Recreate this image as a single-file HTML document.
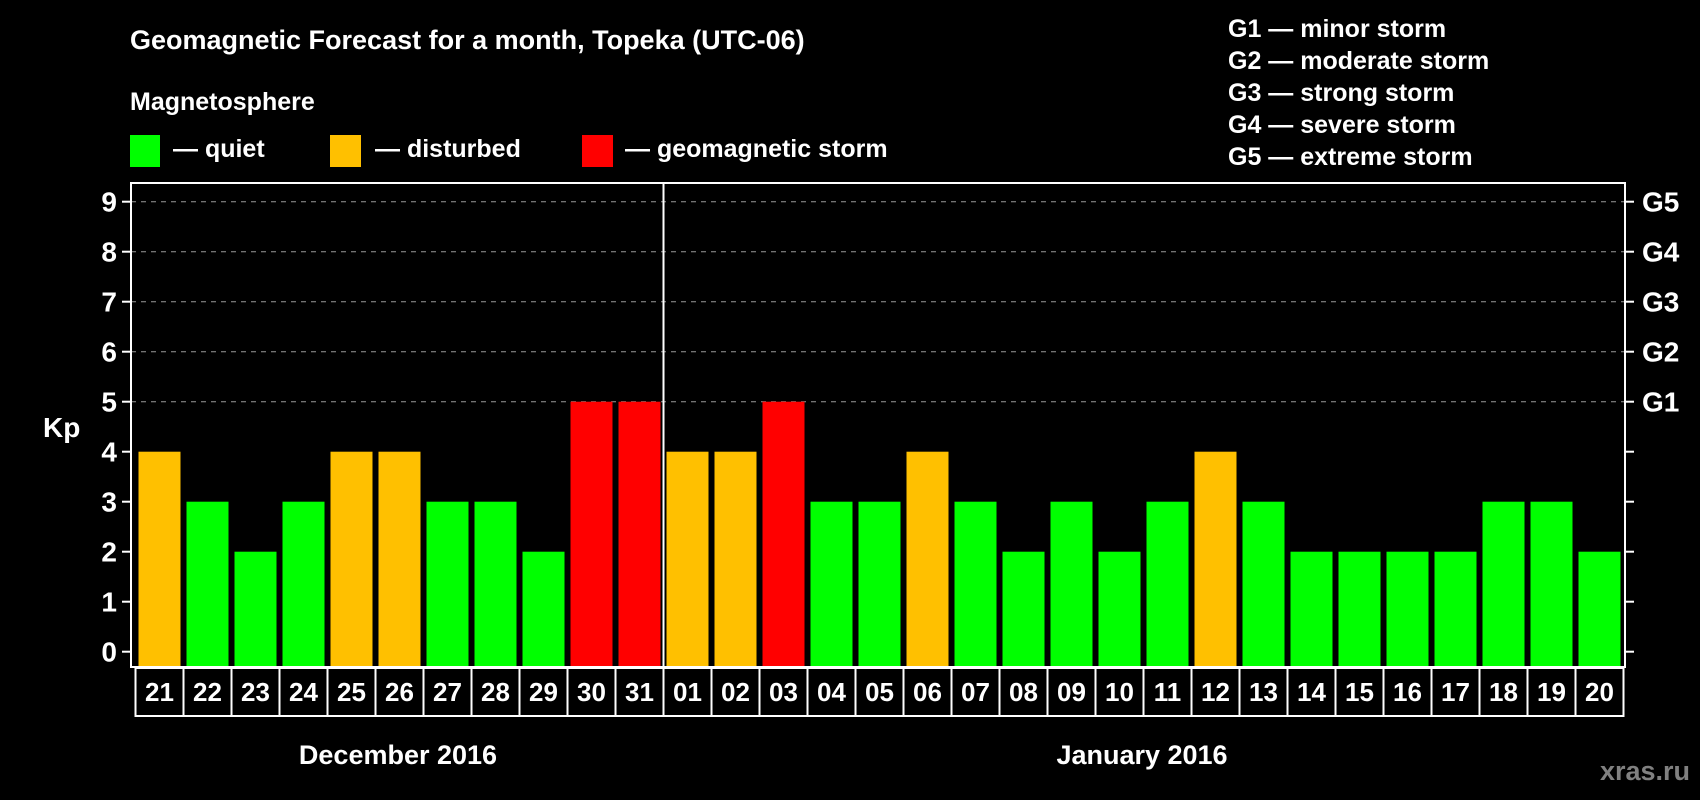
<!DOCTYPE html>
<html><head><meta charset="utf-8"><style>
html,body{margin:0;padding:0;background:#000;}
svg{display:block;font-family:"Liberation Sans",Arial,sans-serif;font-weight:bold;}
</style></head><body>
<svg id="chart" width="1700" height="800" viewBox="0 0 1700 800" xmlns="http://www.w3.org/2000/svg">
<rect x="0" y="0" width="1700" height="800" fill="#000"/>
<text x="130" y="49" font-size="27" fill="#fff">Geomagnetic Forecast for a month, Topeka (UTC-06)</text>
<text x="130" y="110" font-size="25" fill="#fff">Magnetosphere</text>
<g><rect x="130" y="135" width="30" height="32" fill="#00ff00"/><text x="173" y="157" font-size="25" fill="#fff">— quiet</text></g>
<g><rect x="330" y="135" width="31" height="32" fill="#ffc000"/><text x="375" y="157" font-size="25" fill="#fff">— disturbed</text></g>
<g><rect x="582" y="135" width="31" height="32" fill="#ff0000"/><text x="663" y="157" font-size="25" fill="#fff" text-anchor="start" dx="-38">— geomagnetic storm</text></g>
<g font-size="25" fill="#fff">
<text x="1228" y="37">G1 — minor storm</text>
<text x="1228" y="69">G2 — moderate storm</text>
<text x="1228" y="101">G3 — strong storm</text>
<text x="1228" y="133">G4 — severe storm</text>
<text x="1228" y="165">G5 — extreme storm</text>
</g>
<text x="43" y="437" font-size="28" fill="#fff">Kp</text>
<g id="grid"></g><g id="bars"></g><g id="axes"></g>
<text x="398" y="764" font-size="27" fill="#fff" text-anchor="middle">December 2016</text>
<text x="1142" y="764" font-size="27" fill="#fff" text-anchor="middle">January 2016</text>
<text x="1690" y="780" font-size="27" fill="#808080" text-anchor="end">xras.ru</text>
</svg>
<script>
const days = ["21","22","23","24","25","26","27","28","29","30","31","01","02","03","04","05","06","07","08","09","10","11","12","13","14","15","16","17","18","19","20"];
const kpValues = [4,3,2,3,4,4,3,3,2,5,5,4,4,5,3,3,4,3,2,3,2,3,4,3,2,2,2,2,3,3,2];
const yTicks = [0,1,2,3,4,5,6,7,8,9];
const gLabels = ["G1","G2","G3","G4","G5"];
const gLevels = [5,6,7,8,9];
const monthBreakIndex = 11;

const NS = "http://www.w3.org/2000/svg";
const L = 131, R = 1625, T = 183, B = 667;
const cellX0 = 135.5, cellW = 48, barW = 42;
const y = v => 651.7 - v * 50;
const xCell = i => cellX0 + i * cellW;
function mk(tag, attrs, parent) {
  const e = document.createElementNS(NS, tag);
  for (const k in attrs) e.setAttribute(k, attrs[k]);
  parent.appendChild(e); return e;
}
const grid = document.getElementById('grid');
const bars = document.getElementById('bars');
const axes = document.getElementById('axes');
gLevels.forEach((v, i) => {
  const ln = mk('line', {x1: L, x2: R, y1: y(v), y2: y(v), stroke: '#999', 'stroke-width': 1, 'stroke-dasharray': '5,5'}, grid);
  
  
  const t = mk('text', {x: 1642, y: y(v) + 10, 'font-size': 28, fill: '#fff'}, axes);
  t.textContent = gLabels[i];
  
  
});
kpValues.forEach((v, i) => {
  const c = v >= 5 ? '#ff0000' : (v >= 4 ? '#ffc000' : '#00ff00');
  const r = mk('rect', {x: xCell(i) + (cellW - barW) / 2, y: y(v), width: barW, height: B - y(v), fill: c}, bars);
  
  
  const cell = mk('rect', {x: xCell(i), y: B + 1, width: cellW, height: 48, fill: 'none', stroke: '#fff', 'stroke-width': 2}, axes);
  
  
  const t = mk('text', {x: xCell(i) + cellW / 2, y: 701, 'font-size': 26, fill: '#fff', 'text-anchor': 'middle'}, axes);
  t.textContent = days[i];
  
  
});
const frame = mk('rect', {x: L, y: T, width: R - L, height: B - T, fill: 'none', stroke: '#fff', 'stroke-width': 2}, axes);


const sep = mk('line', {x1: xCell(monthBreakIndex), x2: xCell(monthBreakIndex), y1: T, y2: B, stroke: '#fff', 'stroke-width': 2}, axes);


yTicks.forEach(v => {
  mk('line', {x1: L - 9, x2: L, y1: y(v), y2: y(v), stroke: '#fff', 'stroke-width': 2}, axes);
  mk('line', {x1: R, x2: R + 9, y1: y(v), y2: y(v), stroke: '#fff', 'stroke-width': 2}, axes);
  const t = mk('text', {x: 117, y: y(v) + 10, 'font-size': 28, fill: '#fff', 'text-anchor': 'end'}, axes);
  t.textContent = v;
  
  
});
</script>
</body></html>
